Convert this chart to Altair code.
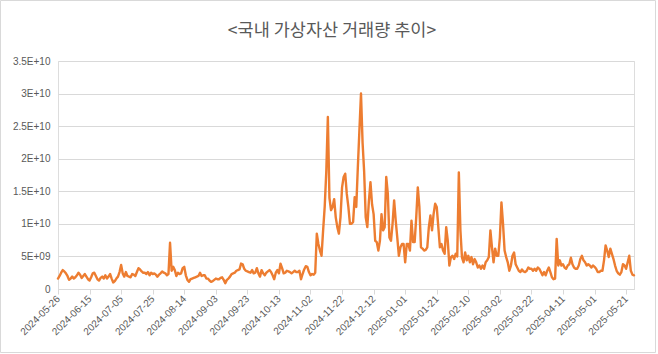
import altair as alt
import pandas as pd

title_text = "<국내 가상자산 거래량 추이>"
start_date = "2024-05-26"

# daily trading volume, in units of 1E+09
volume_e9 = [
    1.6, 2.0, 2.5, 2.9, 2.7, 2.4, 2.0, 1.4, 1.6, 1.9, 1.6, 1.8, 2.1, 2.5, 2.2, 1.7, 2.0, 2.3, 1.9, 1.5,
    1.3, 1.8, 2.4, 2.5, 2.0, 1.5, 1.3, 1.7, 1.9, 1.6, 2.1, 1.6, 1.9, 2.3, 1.6, 1.0, 1.2, 1.6, 1.9, 2.6,
    3.7, 2.4, 1.9, 2.6, 2.0, 1.9, 1.8, 2.3, 2.2, 2.0, 2.6, 3.2, 3.0, 2.7, 2.5, 2.5, 2.3, 2.6, 2.1, 2.5,
    2.3, 2.4, 2.2, 1.9, 2.2, 2.4, 2.7, 2.5, 2.4, 2.1, 2.3, 7.1, 2.8, 3.4, 2.9, 2.0, 2.5, 2.3, 2.4, 3.2,
    3.4, 2.1, 1.4, 1.1, 1.5, 1.6, 1.7, 1.8, 1.9, 2.0, 2.5, 2.0, 2.1, 2.1, 1.6, 1.6, 1.3, 1.1, 1.2, 1.4,
    1.6, 1.5, 1.5, 1.7, 1.8, 1.4, 0.9, 1.4, 1.6, 1.9, 2.3, 2.4, 2.5, 2.8, 2.9, 3.0, 3.9, 3.8, 3.1, 2.8,
    2.7, 2.6, 2.5, 2.9, 2.4, 2.5, 3.2, 2.4, 1.9, 2.9, 2.4, 2.1, 2.5, 2.7, 2.9, 2.6, 2.1, 1.5, 2.5, 2.9,
    2.4, 3.9, 3.2, 2.4, 2.5, 2.8, 2.7, 2.6, 2.4, 2.6, 2.8, 2.6, 2.6, 2.8, 1.5, 2.3, 3.0, 3.5, 3.4, 2.6,
    2.1, 2.3, 2.2, 2.5, 8.5, 6.9, 5.9, 5.1, 9.0, 12.6, 18.0, 26.4, 14.0, 12.1, 12.6, 13.8, 11.0, 9.5, 8.5, 11.0,
    15.6, 17.2, 17.7, 14.6, 12.6, 10.0, 10.0, 10.3, 14.1, 12.6, 18.7, 24.4, 30.0, 22.5, 18.0, 11.0, 9.5, 13.5, 16.4, 13.0,
    11.5, 7.4, 7.2, 5.9, 7.4, 11.5, 9.0, 9.5, 17.2, 14.6, 7.9, 7.4, 10.0, 13.6, 10.5, 7.9, 5.1, 6.4, 6.9, 6.9,
    4.1, 6.9, 6.9, 5.9, 10.5, 7.2, 7.2, 11.0, 15.6, 12.6, 6.4, 6.2, 5.9, 6.0, 6.4, 9.5, 11.3, 9.0, 11.5, 13.1,
    12.6, 9.5, 6.4, 6.9, 5.9, 5.4, 9.5, 7.4, 3.6, 4.9, 5.1, 4.6, 5.4, 5.0, 17.9, 9.0, 4.8, 4.1, 5.6, 4.4,
    5.1, 4.1, 4.9, 3.8, 4.6, 4.1, 3.3, 3.6, 3.1, 3.6, 3.1, 4.1, 4.4, 4.9, 9.0, 6.4, 4.1, 6.2, 5.1, 5.1,
    7.9, 13.3, 10.0, 5.9, 4.9, 4.1, 2.8, 3.6, 5.1, 5.6, 3.8, 3.3, 2.8, 2.6, 3.0, 2.7, 2.6, 2.8, 3.3, 3.1,
    3.1, 2.8, 3.1, 2.8, 3.3, 3.1, 2.6, 2.1, 2.6, 2.1, 2.8, 3.3, 2.6, 1.8, 1.5, 1.6, 7.7, 3.6, 4.4, 3.6,
    3.8, 3.3, 3.1, 3.6, 3.8, 4.8, 3.8, 3.3, 3.1, 3.1, 3.6, 4.6, 5.1, 4.4, 4.1, 3.6, 3.8, 3.6, 3.3, 3.6,
    3.4, 3.1, 2.6, 2.6, 2.8, 2.8, 4.4, 6.7, 5.9, 4.9, 6.2, 5.4, 4.6, 3.6, 2.8, 2.4, 2.2, 2.6, 3.8, 3.6,
    3.1, 4.1, 5.1, 2.8, 2.2, 2.1,
]

x_tick_labels = [
    "2024-05-26", "2024-06-15", "2024-07-05", "2024-07-25", "2024-08-14", "2024-09-03",
    "2024-09-23", "2024-10-13", "2024-11-02", "2024-11-22", "2024-12-12", "2025-01-01",
    "2025-01-21", "2025-02-10", "2025-03-02", "2025-03-22", "2025-04-11", "2025-05-01",
    "2025-05-21",
]

y_tick_values = [0, 5e9, 1e10, 1.5e10, 2e10, 2.5e10, 3e10, 3.5e10]
y_tick_labels = ["0", "5E+09", "1E+10", "1.5E+10", "2E+10", "2.5E+10", "3E+10", "3.5E+10"]

dates = pd.date_range(start_date, periods=len(volume_e9), freq="D").strftime("%Y-%m-%d")
df = pd.DataFrame({"date": dates, "volume": [v * 1e9 for v in volume_e9]})

label_js = "[" + ",".join("'" + s + "'" for s in y_tick_labels) + "]"

line = alt.Chart(df).mark_line(
    color="#ED7D31", strokeWidth=2.4, strokeJoin="round", strokeCap="round"
).encode(
    x=alt.X(
        "date:O",
        title=None,
        scale=alt.Scale(type="point", padding=0),
        axis=alt.Axis(
            values=x_tick_labels,
            labelAngle=-45,
            labelAlign="right",
            labelBaseline="middle",
            labelPadding=3,
            labelFont="Liberation Sans",
            labelFontSize=10,
            labelColor="#595959",
            domainColor="#d9d9d9",
            tickColor="#d9d9d9",
            tickSize=5,
            grid=False,
            labelOverlap=False,
        ),
    ),
    y=alt.Y(
        "volume:Q",
        title=None,
        scale=alt.Scale(domain=[0, 3.5e10], nice=False),
        axis=alt.Axis(
            values=y_tick_values,
            labelExpr=label_js + "[round(datum.value/5e9)]",
            labelFont="Liberation Sans",
            labelFontSize=10,
            labelColor="#595959",
            labelPadding=8,
            domain=False,
            ticks=False,
            grid=True,
            gridColor="#d9d9d9",
            gridWidth=1,
        ),
    ),
)

border = alt.Chart(pd.DataFrame({"k": [0]})).mark_rect(
    fillOpacity=0, stroke="#d9d9d9", strokeWidth=1
).encode(
    x=alt.value(-57.5), x2=alt.value(597.5), y=alt.value(-60.5), y2=alt.value(291.5)
)

chart = alt.layer(border, line).properties(
    width=576,
    height=228,
    autosize=alt.AutoSizeParams(type="none"),
    padding={"left": 58, "top": 61, "right": 24, "bottom": 65},
    title=alt.TitleParams(
        text=title_text,
        font="Noto Sans CJK KR",
        fontSize=17.5,
        fontWeight="normal",
        color="#595959",
        anchor="middle",
        dx=-14,
        offset=-39,
    ),
).configure_view(stroke=None).configure(background="white")

chart.save("out.html", embed_options={"renderer": "svg", "actions": False})
